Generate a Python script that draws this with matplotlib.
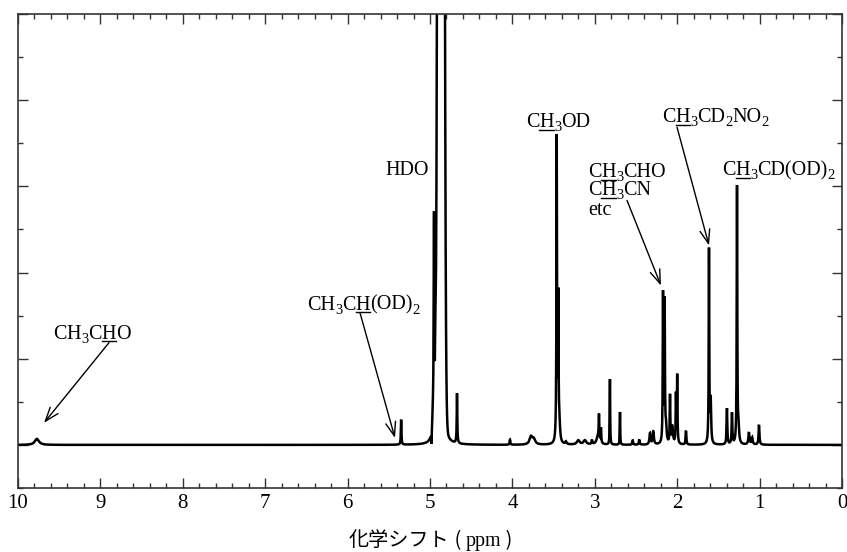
import numpy as np
import matplotlib
matplotlib.use('Agg')
import matplotlib.pyplot as plt
from matplotlib.ticker import MultipleLocator
from matplotlib.lines import Line2D

# ---- data: peaks (ppm, height, half-width ppm, shape) ----
peak_ppm = [9.77, 5.35, 4.982, 4.96, 4.951, 4.933, 4.867, 4.84, 4.672, 4.029,
            3.774, 3.74, 3.462, 3.443, 3.43, 3.35, 3.20, 3.12, 3.034, 2.96,
            2.949, 2.925, 2.816, 2.694, 2.54, 2.46, 2.33, 2.29, 2.172, 2.152,
            2.135, 2.087, 2.06, 2.015, 2.000, 1.893, 1.614, 1.593, 1.396, 1.335,
            1.274, 1.256, 1.129, 1.09, 1.007]
peak_height = [0.07, 0.29, -0.17, 0.35, 2.30, 0.75, 60.0, 0.28, 0.58, 0.06,
               0.09, 0.06, 3.52, 1.60, 0.20, 0.03, 0.05, 0.05, 0.05, 0.10,
               0.28, 0.17, 0.76, 0.38, 0.05, 0.06, 0.13, 0.15, 1.72, 1.62,
               0.18, 0.55, 0.20, 0.55, 0.78, 0.16, 2.25, 0.50, 0.42, 0.36,
               2.98, 0.18, 0.14, 0.08, 0.23]
peak_width = [0.03, 0.004, 0.004, 0.015, 0.004, 0.006, 0.022, 0.045, 0.004, 0.005,
              0.02, 0.02, 0.004, 0.004, 0.01, 0.01, 0.02, 0.02, 0.006, 0.02,
              0.004, 0.004, 0.003, 0.003, 0.006, 0.006, 0.008, 0.008, 0.004, 0.004,
              0.008, 0.004, 0.01, 0.004, 0.004, 0.005, 0.004, 0.006, 0.005, 0.005,
              0.004, 0.008, 0.008, 0.008, 0.006]
peak_shape = ['L', 'L', 'L', 'L', 'L', 'L', 'G', 'L', 'L', 'L',
              'L', 'L', 'L', 'L', 'L', 'L', 'L', 'L', 'L', 'L',
              'L', 'L', 'L', 'L', 'L', 'L', 'L', 'L', 'L', 'L',
              'L', 'L', 'L', 'L', 'L', 'L', 'L', 'L', 'L', 'L',
              'L', 'L', 'L', 'L', 'L']

x_ticks = [10, 9, 8, 7, 6, 5, 4, 3, 2, 1, 0]

SERIF = 'Liberation Serif'
JP = 'Noto Sans CJK JP'

W, H = 847, 552
fig = plt.figure(figsize=(W / 100, H / 100), dpi=100)
ax = fig.add_axes([18 / W, (H - 488) / H, (842 - 18) / W, (488 - 14) / H])

ppm = np.linspace(0, 10, 40001)
spec = np.zeros_like(ppm)
for p, h, w, s in zip(peak_ppm, peak_height, peak_width, peak_shape):
    if s == 'G':
        spec += h * np.exp(-(ppm - p) ** 2 / (2 * w ** 2))
    else:
        spec += h / (1 + ((ppm - p) / w) ** 2)

ax.plot(ppm, spec, color='black', lw=1.8, solid_joinstyle='miter')
ax.set_xlim(10, 0)
ax.set_ylim(-0.5, 5)

ax.xaxis.set_major_locator(MultipleLocator(1))
ax.xaxis.set_minor_locator(MultipleLocator(0.2))
ax.yaxis.set_major_locator(MultipleLocator(1))
ax.yaxis.set_minor_locator(MultipleLocator(0.5))
ax.set_xticks(x_ticks)
ax.set_xticklabels([str(t) for t in x_ticks])
ax.tick_params(which='both', direction='in', top=True, right=True,
               left=True, bottom=True, color='#333333', width=1.0)
ax.tick_params(which='major', length=7)
ax.tick_params(which='minor', length=3.5)
ax.tick_params(axis='y', labelleft=False)
ax.tick_params(axis='x', labelsize=15, pad=4)
for lab in ax.get_xticklabels():
    lab.set_family(SERIF)
for sp in ax.spines.values():
    sp.set_color('#333333')
    sp.set_linewidth(1.2)

fig.canvas.draw()
renderer = fig.canvas.get_renderer()


def draw_pieces(X, Y, pieces, fs, family=SERIF):
    """Draw text pieces left to right starting at display (X, Y) baseline."""
    for s, kind, ul in pieces:
        if kind == 's':
            size, dy = fs * 0.72, -0.2 * fs * 100 / 72
        else:
            size, dy = fs, 0
        fam = family if not isinstance(kind, tuple) else kind[0]
        t = fig.text(X / W, (Y + dy) / H, s, fontsize=size, family=fam,
                     ha='left', va='baseline')
        bb = t.get_window_extent(renderer)
        if ul:
            fig.add_artist(Line2D([bb.x0 / W, bb.x1 / W], [(Y - 2.5) / H, (Y - 2.5) / H],
                                  transform=fig.transFigure, color='black', lw=1.0))
        X = bb.x1
    return X


def label(xd, yd, pieces, fs=14.5):
    X, Y = ax.transData.transform((xd, yd))
    draw_pieces(X, Y, pieces, fs)


n, sb = 'n', 's'
label(9.575, 1.233, [('C', n, False), ('H', n, False), ('3', sb, False),
                     ('C', n, False), ('H', n, True), ('O', n, False)])
label(6.493, 1.57, [('CH', n, False), ('3', sb, False), ('C', n, False),
                    ('H', n, True), ('(OD)', n, False), ('2', sb, False)])
label(5.546, 3.128, [('HDO', n, False)])
label(3.835, 3.686, [('C', n, False), ('H', n, True), ('3', sb, False), ('OD', n, False)])
label(3.083, 3.105, [('C', n, False), ('H', n, True), ('3', sb, False), ('CHO', n, False)])
label(3.083, 2.895, [('C', n, False), ('H', n, True), ('3', sb, False), ('CN', n, False)])
label(3.083, 2.67, [('etc', n, False)])
label(2.184, 3.744, [('C', n, False), ('H', n, True), ('3', sb, False), ('CD', n, False),
                     ('2', sb, False), ('NO', n, False), ('2', sb, False)])
label(1.456, 3.128, [('C', n, False), ('H', n, True), ('3', sb, False),
                     ('CD(OD)', n, False), ('2', sb, False)])

arrows = [((8.896, 1.186), (9.684, 0.256)),
          ((5.850, 1.535), (5.425, 0.081)),
          ((2.609, 2.837), (2.197, 1.849)),
          ((2.002, 3.686), (1.614, 2.314))]
for start, end in arrows:
    ax.annotate('', xy=end, xytext=start,
                arrowprops=dict(arrowstyle='->,head_length=0.5,head_width=0.18',
                                color='black', lw=1.0, mutation_scale=20,
                                shrinkA=0, shrinkB=0))

# x-axis label (mixed fonts)
draw_pieces(349, H - 546, [('化学シフト', (JP,), False), (' ( ', (JP,), False),
                           ('ppm', n, False), (' )', (JP,), False)], 14.5)

fig.savefig('out.png', dpi=100)
